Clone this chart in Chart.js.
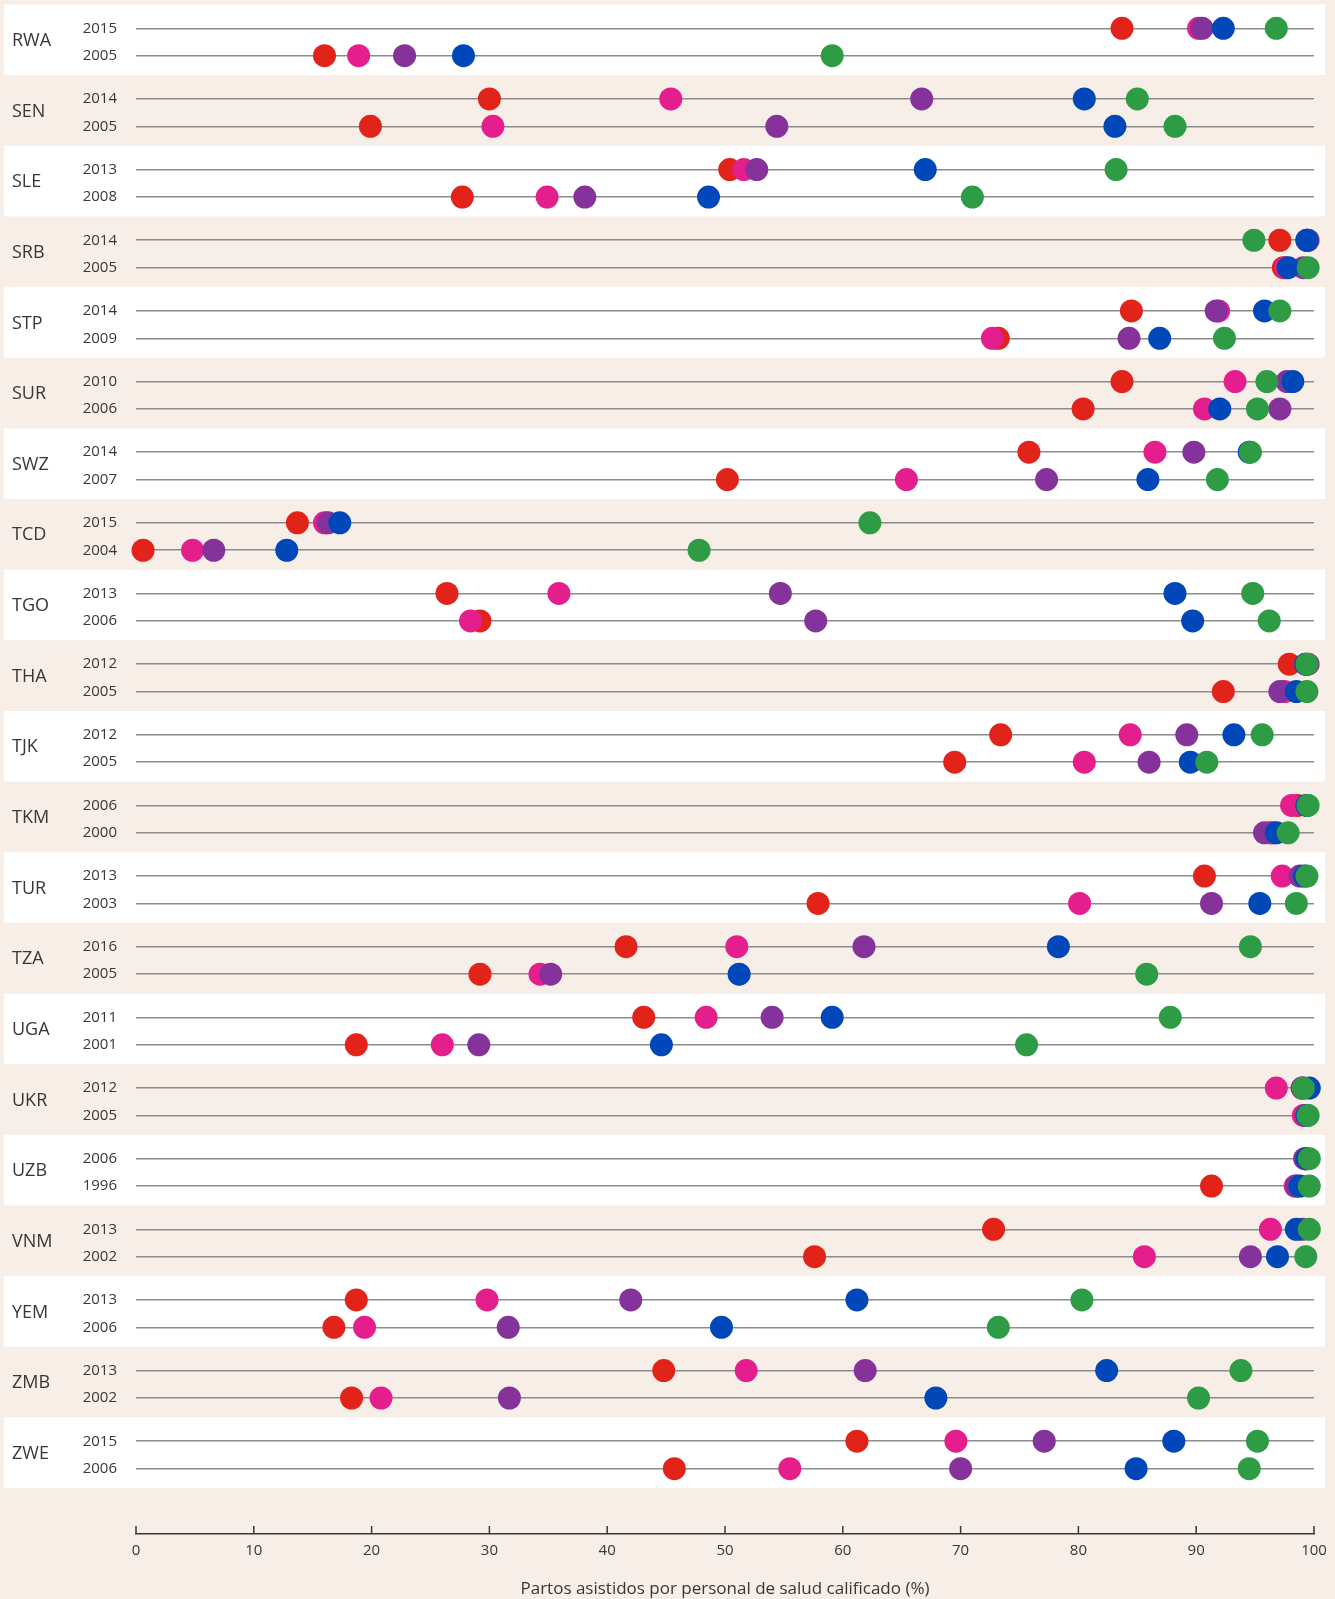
<!DOCTYPE html>
<html>
<head>
<meta charset="utf-8">
<script src="https://cdn.jsdelivr.net/npm/chart.js@4.4.1/dist/chart.umd.min.js"></script>
<style>
  html, body { margin: 0; padding: 0; background: #f6eee7; }
  canvas { display: block; }
</style>
</head>
<body>
<canvas id="myChart" width="1335" height="1599"></canvas>
<script>
const countries = ['RWA', 'SEN', 'SLE', 'SRB', 'STP', 'SUR', 'SWZ', 'TCD', 'TGO', 'THA', 'TJK',
  'TKM', 'TUR', 'TZA', 'UGA', 'UKR', 'UZB', 'VNM', 'YEM', 'ZMB', 'ZWE']

// two survey years per country, upper row first
const years = [
  '2015', '2005', '2014', '2005', '2013', '2008', '2014', '2005', '2014', '2009',
  '2010', '2006', '2014', '2007', '2015', '2004', '2013', '2006', '2012', '2005',
  '2012', '2005', '2006', '2000', '2013', '2003', '2016', '2005', '2011', '2001',
  '2012', '2005', '2006', '1996', '2013', '2002', '2013', '2006', '2013', '2002',
  '2015', '2006'
]

// quintiles, poorest to richest (one value per row, same order as years)
const poorest = [
  83.7, 16.0, 30.0, 19.9, 50.4, 27.7, 97.1, 97.4, 84.5, 73.2,
  83.7, 80.4, 75.8, 50.2, 13.7, 0.6, 26.4, 29.2, 97.9, 92.3,
  73.4, 69.5, 98.6, 96.3, 90.7, 57.9, 41.6, 29.2, 43.1, 18.7,
  99.0, 99.3, 99.3, 91.3, 72.8, 57.6, 18.7, 16.8, 44.8, 18.3,
  61.2, 45.7
]
const second = [
  90.2, 18.9, 45.4, 30.3, 51.6, 34.9, 99.4, 97.6, 91.9, 72.7,
  93.3, 90.7, 86.5, 65.4, 16.0, 4.8, 35.9, 28.4, 99.3, 97.5,
  84.4, 80.5, 98.1, 96.5, 97.3, 80.1, 51.0, 34.3, 48.4, 26.0,
  96.8, 99.1, 99.3, 98.4, 96.3, 85.6, 29.8, 19.4, 51.8, 20.8,
  69.6, 55.5
]
const middle = [
  90.5, 22.8, 66.7, 54.4, 52.7, 38.1, 99.5, 99.1, 91.7, 84.3,
  97.7, 97.1, 89.8, 77.3, 16.3, 6.6, 54.7, 57.7, 99.5, 97.1,
  89.2, 86.0, 99.4, 95.8, 98.8, 91.3, 61.8, 35.2, 54.0, 29.1,
  99.0, 99.4, 99.2, 98.5, 99.0, 94.6, 42.0, 31.6, 61.9, 31.7,
  77.1, 70.0
]
const fourth = [
  92.3, 27.8, 80.5, 83.1, 67.0, 48.6, 99.4, 97.8, 95.8, 86.9,
  98.2, 92.0, 94.5, 85.9, 17.3, 12.8, 88.2, 89.7, 99.3, 98.5,
  93.2, 89.5, 99.4, 96.8, 99.2, 95.4, 78.3, 51.2, 59.1, 44.6,
  99.6, 99.4, 99.4, 98.8, 98.5, 96.9, 61.2, 49.7, 82.4, 67.9,
  88.1, 84.9
]
const richest = [
  96.8, 59.1, 85.0, 88.2, 83.2, 71.0, 94.9, 99.5, 97.1, 92.4,
  96.0, 95.2, 94.6, 91.8, 62.3, 47.8, 94.8, 96.2, 99.4, 99.4,
  95.6, 90.9, 99.5, 97.8, 99.4, 98.5, 94.6, 85.8, 87.8, 75.6,
  99.1, 99.5, 99.6, 99.6, 99.6, 99.3, 80.3, 73.2, 93.8, 90.2,
  95.2, 94.5
]

const xTicks = [0, 10, 20, 30, 40, 50, 60, 70, 80, 90, 100]

// each country gets one unit on the y scale, the two rows sit inside it
const rowY = []
countries.forEach((c, i) => rowY.push(i + 0.337, i + 0.725))

function points(values) {
  return values.map((v, i) => ({x: v, y: rowY[i]}))
}

const font = '"Open Sans", "DejaVu Sans", sans-serif'
const textColor = '#3d3535'

const bandsPlugin = {
  id: 'bands',
  beforeDraw(chart) {
    const {ctx} = chart
    const y = chart.scales.y
    ctx.save()
    ctx.fillStyle = '#f6eee7'
    ctx.fillRect(0, 0, chart.width, chart.height)
    countries.forEach((name, i) => {
      const top = y.getPixelForValue(i)
      const bottom = y.getPixelForValue(i + 1)
      if (i % 2 === 0) {
        ctx.fillStyle = '#ffffff'
        ctx.fillRect(4, top, chart.width - 14, bottom - top)
      }
      ctx.fillStyle = textColor
      ctx.font = '18px ' + font
      ctx.textAlign = 'left'
      ctx.textBaseline = 'middle'
      ctx.fillText(name, 12, (top + bottom) / 2 + 1)
    })
    ctx.restore()
  },
  afterDraw(chart) {
    // small tick marks pointing up from the x axis
    const {ctx} = chart
    const x = chart.scales.x
    const base = chart.chartArea.bottom
    ctx.save()
    ctx.strokeStyle = textColor
    ctx.lineWidth = 1.5
    xTicks.forEach(t => {
      const px = x.getPixelForValue(t)
      ctx.beginPath()
      ctx.moveTo(px, base)
      ctx.lineTo(px, base - 8)
      ctx.stroke()
    })
    ctx.restore()
  }
}

const colors = ['#e2231a', '#e51e8e', '#85339a', '#0047ba', '#2e9b45']
const series = [poorest, second, middle, fourth, richest]

const ctx = document.getElementById('myChart').getContext('2d')
const chart = new Chart(ctx, {
  type: 'scatter',
  data: {
    datasets: series.map((values, i) => ({
      data: points(values),
      backgroundColor: colors[i],
      borderWidth: 0,
      pointRadius: 11.5,
      pointHoverRadius: 11.5,
      clip: false,
      order: series.length - i
    }))
  },
  options: {
    responsive: false,
    animation: false,
    devicePixelRatio: 1,
    layout: {
      autoPadding: false,
      padding: {top: 4.5, left: 0, right: 21, bottom: 0}
    },
    plugins: {
      legend: {display: false},
      tooltip: {enabled: false}
    },
    scales: {
      x: {
        type: 'linear',
        position: 'bottom',
        min: 0,
        max: 100,
        afterFit: scale => {
          scale.height = 65
          scale.paddingLeft = 0
          scale.paddingRight = 0
        },
        afterBuildTicks: scale => { scale.ticks = xTicks.map(v => ({value: v})) },
        border: {display: true, color: textColor, width: 1.5},
        grid: {display: true, drawOnChartArea: false, drawTicks: false},
        ticks: {
          color: textColor,
          font: {family: font, size: 15},
          padding: 8,
          maxRotation: 0
        },
        title: {
          display: true,
          text: 'Partos asistidos por personal de salud calificado (%)',
          color: textColor,
          font: {family: font, size: 17},
          padding: {top: 0, bottom: 0}
        }
      },
      y: {
        type: 'linear',
        position: 'left',
        min: 0,
        max: 21.65,
        reverse: true,
        afterFit: scale => {
          scale.width = 136
          scale.paddingTop = 0
          scale.paddingBottom = 0
        },
        afterBuildTicks: scale => { scale.ticks = rowY.map(v => ({value: v})) },
        border: {display: false},
        grid: {color: '#8c8c8c', lineWidth: 1.5, drawTicks: false},
        ticks: {
          autoSkip: false,
          color: textColor,
          font: {family: font, size: 15},
          padding: 19,
          callback: (value, index) => years[index]
        }
      }
    }
  },
  plugins: [bandsPlugin]
})
</script>
</body>
</html>
